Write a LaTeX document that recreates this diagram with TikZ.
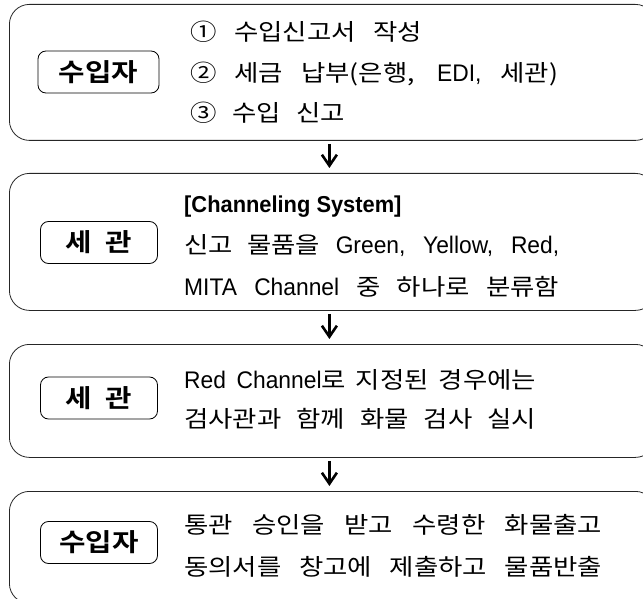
\documentclass[tikz,border=0pt]{standalone}
\usepackage{fontspec}
\usetikzlibrary{arrows.meta}
\setmainfont[FakeStretch=0.95]{Liberation Sans}
\newfontfamily\kr[BoldFont={Noto Sans CJK KR Bold},FakeStretch=1.15]{Noto Sans CJK KR}
\newcommand{\K}[1]{{\kr\fontsize{23}{26}\selectfont #1}}
\newcommand{\KB}[1]{{\kr\bfseries\fontsize{25}{26}\selectfont #1}}
\newcommand{\jline}[2]{\makebox[#1][s]{#2}}
\begin{document}
\begin{tikzpicture}[x=1pt,y=-1pt,
  outerbox/.style={draw=black!85, line width=0.8pt, rounded corners=20pt, inner sep=0pt, minimum width=646pt, anchor=north west},
  labbox/.style={draw=black, line width=0.8pt, rounded corners=8pt, inner sep=0pt, minimum height=42pt},
  txt/.style={inner sep=0pt, anchor=base west, font=\fontsize{24}{26}\selectfont},
  conn/.style={line width=2.6pt, -{Straight Barb[length=11pt,width=15pt]}, shorten <=3pt, shorten >=5pt}]
\useasboundingbox (0,0) rectangle (643,599);
\clip (0,0) rectangle (643,599);
% outer boxes
\node[outerbox, minimum height=136pt] (b1) at (9,4) {};
\node[outerbox, minimum height=137pt] (b2) at (9,173) {};
\node[outerbox, minimum height=113pt] (b3) at (9,344) {};
\node[outerbox, minimum height=112pt] (b4) at (9,491) {};
% labels
\node[labbox, minimum width=121pt] (l1) at (98.5,72) {\KB{수입자}};
\node[labbox, minimum width=117pt] (l2) at (99,242.5) {\KB{세\hspace{7pt} 관}};
\node[labbox, minimum width=117pt] (l3) at (99,398) {\KB{세\hspace{7pt} 관}};
\node[labbox, minimum width=117pt] (l4) at (99,542.5) {\KB{수입자}};
% box 1 text
\node[txt] (t11) at (190,41) {\jline{232pt}{\K{① 수입신고서 작성}}};
\node[txt] (t12) at (190,82) {\jline{368pt}{\K{② 세금 납부(은행,} EDI, \K{세관)}}};
\node[txt] (t13) at (190,122) {\jline{155pt}{\K{③ 수입 신고}}};
% box 2 text
\node[txt, font=\fontsize{23}{26}\selectfont] (t21) at (184,212) {\textbf{[Channeling System]}};
\node[txt] (t22) at (184,253) {\jline{375pt}{\K{신고 물품을} Green, Yellow, Red,}};
\node[txt] (t23) at (184,295) {\jline{375pt}{MITA Channel \K{중 하나로 분류함}}};
% box 3 text
\node[txt] (t31) at (184,388) {\jline{352pt}{Red Channel\K{로 지정된 경우에는}}};
\node[txt] (t32) at (184,427) {\jline{352pt}{\K{검사관과 함께 화물 검사 실시}}};
% box 4 text
\node[txt] (t41) at (184,533) {\jline{418pt}{\K{통관 승인을 받고 수령한 화물출고}}};
\node[txt] (t42) at (184,575) {\jline{418pt}{\K{동의서를 창고에 제출하고 물품반출}}};
% arrows
\draw[conn] ([xshift=-3pt]b1.south) -- ([xshift=-3pt]b2.north);
\draw[conn] ([xshift=-3pt]b2.south) -- ([xshift=-3pt]b3.north);
\draw[conn] ([xshift=-3pt]b3.south) -- ([xshift=-3pt]b4.north);
\end{tikzpicture}
\end{document}
